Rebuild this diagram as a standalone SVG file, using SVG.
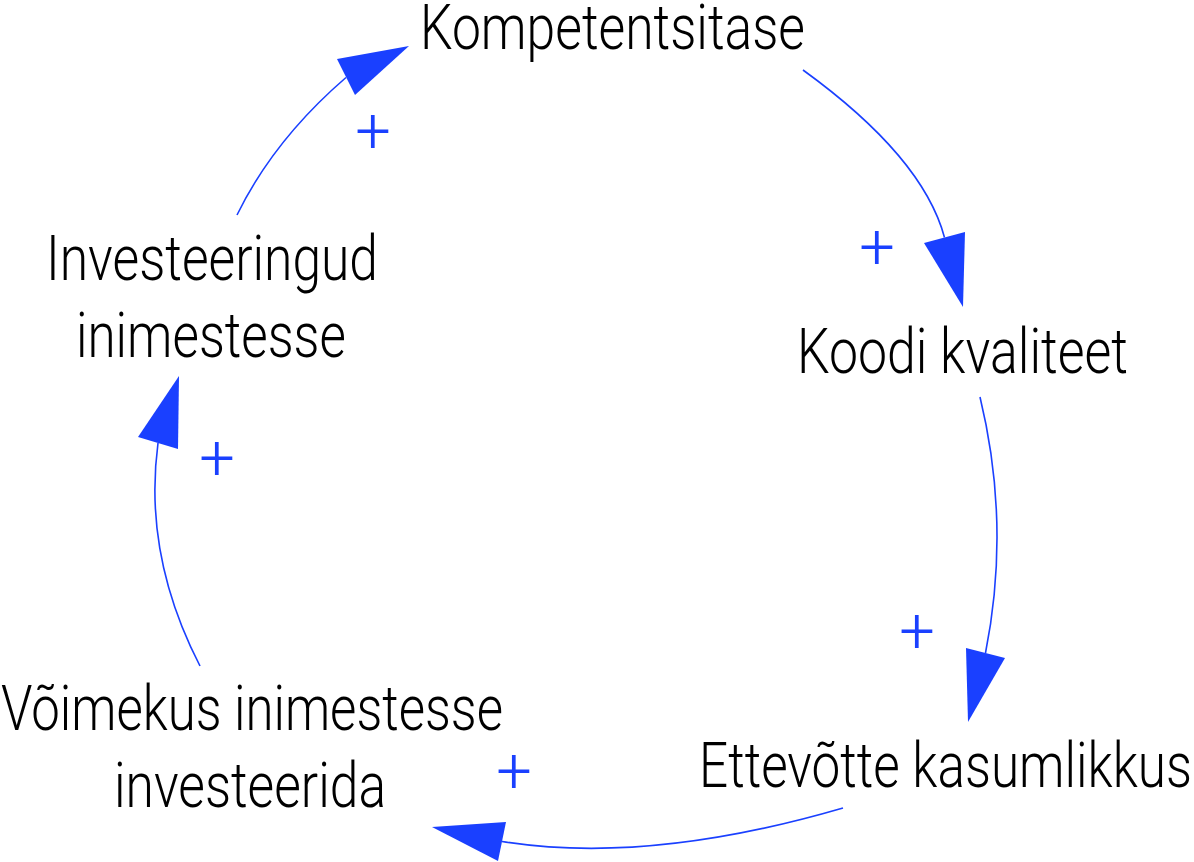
<svg xmlns="http://www.w3.org/2000/svg" width="1194" height="862" viewBox="0 0 1194 862">
  <style>
    .lbl { font-family: Roboto, "Liberation Sans", sans-serif; font-weight: 300; font-size: 63px; fill: #000000; }
    .sign { font-family: Roboto, "Liberation Sans", sans-serif; font-weight: 300; font-size: 63px; fill: #1a40ff; text-anchor: middle; }
    .link { fill: none; stroke: #1a40ff; stroke-width: 1.6; }
    .head { fill: #1a40ff; stroke: none; }
  </style>
  <rect width="1194" height="862" fill="#ffffff"/>

  <g id="connectors">
    <path class="link" d="M803,70 Q923,157 944.5,237.5"/>
    <polygon class="head" points="924,243 965,232 963,307"/>
    <text class="sign" x="877" y="268">+</text>

    <path class="link" d="M980,397 Q1011,525 985.5,653"/>
    <polygon class="head" points="966,648 1005,658 968,722"/>
    <text class="sign" x="917" y="652">+</text>

    <path class="link" d="M843,808 Q647.5,865 502,841.5"/>
    <polygon class="head" points="506,822 498,861 432,827"/>
    <text class="sign" x="514" y="792">+</text>

    <path class="link" d="M200,666 Q143,555.5 158,443"/>
    <polygon class="head" points="138,437 178,449 179,376"/>
    <text class="sign" x="217" y="479">+</text>

    <path class="link" d="M237,215 Q273.8,139.8 346,77.5"/>
    <polygon class="head" points="337,59 355,95 409,46"/>
    <text class="sign" x="373" y="152">+</text>
  </g>

  <g id="node-kompetentsitase">
    <text class="lbl" x="420" y="49" textLength="385" lengthAdjust="spacingAndGlyphs">Kompetentsitase</text>
  </g>
  <g id="node-koodi-kvaliteet">
    <text class="lbl" x="797" y="373" textLength="331" lengthAdjust="spacingAndGlyphs">Koodi kvaliteet</text>
  </g>
  <g id="node-ettevotte-kasumlikkus">
    <text class="lbl" x="699" y="787" textLength="493" lengthAdjust="spacingAndGlyphs">Ettevõtte kasumlikkus</text>
  </g>
  <g id="node-voimekus">
    <text class="lbl" x="1" y="730" textLength="502" lengthAdjust="spacingAndGlyphs">Võimekus inimestesse</text>
    <text class="lbl" x="114" y="807" textLength="272" lengthAdjust="spacingAndGlyphs">investeerida</text>
  </g>
  <g id="node-investeeringud">
    <text class="lbl" x="46" y="280" textLength="332" lengthAdjust="spacingAndGlyphs">Investeeringud</text>
    <text class="lbl" x="76" y="357" textLength="270" lengthAdjust="spacingAndGlyphs">inimestesse</text>
  </g>
</svg>
